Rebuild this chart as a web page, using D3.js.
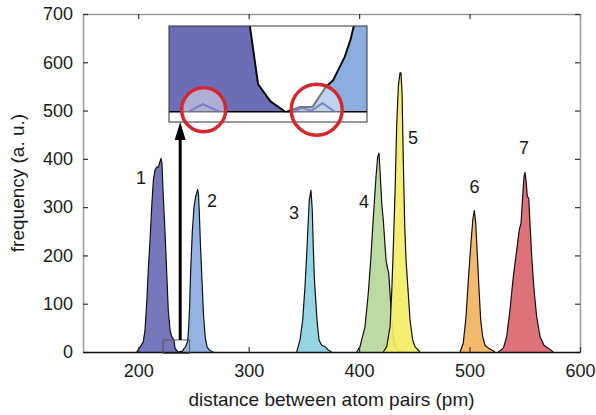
<!DOCTYPE html>
<html>
<head>
<meta charset="utf-8">
<script src="https://cdn.jsdelivr.net/npm/d3@7"></script>
<style>
  html, body { margin: 0; padding: 0; background: #fff; }
  svg { display: block; }
  text { font-family: "Liberation Sans", Arial, Helvetica, sans-serif; fill: #1a1a1a; }
</style>
</head>
<body>
<svg id="chart" width="596" height="415"></svg>
<script>
// ---------------- DATA ----------------
const xTickValues = [200, 300, 400, 500, 600];
const yTickValues = [0, 100, 200, 300, 400, 500, 600, 700];
const xLabel = "distance between atom pairs (pm)";
const yLabel = "frequency (a. u.)";

const peakNames = ["1", "2", "3", "4", "5", "6", "7"];
const peakColors = ["#6b6db6", "#8aaee0", "#8cd0df", "#b6d79a", "#f3ee66", "#f2b361", "#da666f"];

const peak1X = [198.6, 201.6, 204.6, 206.1, 207.7, 209.1, 210.7, 212.2, 213.7, 215.2, 216.7, 218.2, 219.7, 220.6, 221.5, 222.7, 224.2, 225.8, 227.2, 228.8, 230.3, 232.3, 233.3, 234.8, 236.6];
const peak1Y = [0, 10, 21, 45, 102, 170, 232, 300, 356, 377, 383, 383, 394, 401, 391, 322, 251, 164, 87, 46, 32, 25, 8, 3, 0];

const peak2X = [236.8, 238.4, 239.9, 241.5, 242.4, 243.8, 244.5, 244.9, 245.5, 246.5, 247.5, 249.0, 250.5, 252.0, 253.0, 253.8, 254.5, 255.3, 256.3, 257.8, 259.2, 260.8, 262.4, 265.0, 268.0];
const peak2Y = [0, 1.4, 1.4, 7.2, 9.2, 16, 21, 25, 45, 90, 170, 250, 300, 322, 330, 337, 328, 290, 225, 145, 73, 28, 10, 3, 0];

const peak3X = [343.5, 346.5, 348.9, 351.0, 352.6, 354.0, 354.9, 356.4, 357.6, 358.5, 359.4, 360.7, 362.1, 363.7, 366.1, 369.1, 372.1, 375.2];
const peak3Y = [0, 25, 66, 135, 205, 273, 315, 335, 294, 218, 156, 108, 60, 25, 14, 11, 4, 0];

const peak4X = [397.8, 400.8, 405.3, 408.3, 410.5, 412.9, 415.3, 416.8, 418.0, 418.9, 420.5, 421.9, 424.4, 425.5, 426.8, 428.0, 429.5, 431.0, 432.5, 435.5, 438.6];
const peak4Y = [0, 11, 52, 122, 190, 280, 363, 404, 412, 377, 308, 273, 190, 176, 163, 122, 66, 32, 11, 4, 0];

const peak5X = [421.9, 425.0, 428.0, 429.5, 431.0, 432.5, 434.0, 435.5, 437.0, 437.9, 438.9, 440.0, 441.3, 442.5, 444.5, 446.1, 448.5, 450.6, 455.1];
const peak5Y = [0, 11, 52, 122, 218, 329, 467, 550, 578, 578, 537, 398, 260, 190, 122, 66, 25, 11, 0];

const peak6X = [491.4, 494.3, 496.8, 498.9, 501.0, 502.9, 504.3, 505.6, 507.1, 508.6, 510.1, 511.9, 514.0, 517.0, 520.1, 523.0];
const peak6Y = [0, 18, 73, 149, 218, 273, 293, 267, 197, 128, 66, 32, 14, 8, 4, 0];

const peak7X = [526.0, 530.6, 533.6, 536.6, 539.6, 542.7, 545.0, 546.6, 548.1, 549.3, 550.2, 551.1, 552.3, 553.6, 554.7, 556.3, 558.4, 560.8, 563.8, 567.4, 571.3, 575.8];
const peak7Y = [0, 8, 32, 87, 156, 211, 253, 267, 322, 363, 372, 356, 322, 318, 267, 197, 128, 73, 32, 14, 8, 0];

// label anchor positions (data units)
const labelX = [202.5, 266.8, 341.0, 404.4, 448.8, 504.5, 549.3];
const labelY = [360, 313, 288, 311, 443, 342, 422];

// zoomed window shown in the inset (data units)
const insetXDomain = [222.5, 246.5];
const insetYDomain = [-3, 25];
// faint residual bumps visible only in the zoomed inset
const minorX = [224.9, 226.6, 228.6, null, 237.4, 238.6, 239.8, 241.1, 242.6];
const minorY = [0, 2.2, 0, null, 0, 1.1, 0.3, 2.5, 0];
// highlighted spots in the inset (data units)
const circleX = [226.7, 240.4];
const circleY = [0.6, 0.6];

// ---------------- DRAW ----------------
const FONT = '"Liberation Sans", Arial, Helvetica, sans-serif';
const svg = d3.select("#chart");
const W = 596, H = 415;
const m = { left: 83, right: 16, top: 14, bottom: 63 };
const plotR = W - m.right, plotB = H - m.bottom;

const x = d3.scaleLinear().domain([150, 600]).range([m.left, plotR]);
const y = d3.scaleLinear().domain([0, 700]).range([plotB, m.top]);

const peaksX = [peak1X, peak2X, peak3X, peak4X, peak5X, peak6X, peak7X];
const peaksY = [peak1Y, peak2Y, peak3Y, peak4Y, peak5Y, peak6Y, peak7Y];
const peaks = peaksX.map((xs, i) => xs.map((v, j) => ({ x: v, y: peaksY[i][j] })));

// peaks
const gPeaks = svg.append("g");
peaks.forEach((pts, i) => {
  const area = d3.area().x(d => x(d.x)).y0(y(0)).y1(d => y(d.y));
  const line = d3.line().x(d => x(d.x)).y(d => y(d.y));
  gPeaks.append("path").datum(pts).attr("d", area)
    .attr("fill", peakColors[i]).attr("fill-opacity", 0.92);
  gPeaks.append("path").datum(pts).attr("d", line)
    .attr("fill", "none").attr("stroke", "#111").attr("stroke-width", 1.2)
    .attr("stroke-linejoin", "round");
});

// axes box
const tickLen = 5;
const axB = d3.axisBottom(x).tickValues(xTickValues).tickSizeInner(-tickLen).tickSizeOuter(0).tickPadding(12);
const axT = d3.axisTop(x).tickValues(xTickValues).tickSizeInner(-tickLen).tickSizeOuter(0).tickFormat("");
const axL = d3.axisLeft(y).tickValues(yTickValues).tickSizeInner(-tickLen).tickSizeOuter(0).tickPadding(10);
const axR = d3.axisRight(y).tickValues(yTickValues).tickSizeInner(-tickLen).tickSizeOuter(0).tickFormat("");

function styleAxis(g, domainColor) {
  g.select(".domain").attr("stroke", domainColor).attr("stroke-width", 1.5);
  g.selectAll(".tick line").attr("stroke", "#333").attr("stroke-width", 1.2);
  g.selectAll(".tick text").attr("font-size", 18).attr("fill", "#1a1a1a").attr("font-family", FONT);
}
svg.append("g").attr("transform", `translate(0,${m.top})`).call(axT).call(g => styleAxis(g, "#9a9a9a"));
svg.append("g").attr("transform", `translate(${plotR},0)`).call(axR).call(g => styleAxis(g, "#9a9a9a"));
svg.append("g").attr("transform", `translate(${m.left},0)`).call(axL).call(g => styleAxis(g, "#9a9a9a"));
svg.append("g").attr("transform", `translate(0,${plotB})`).call(axB).call(g => styleAxis(g, "#111"));

// axis titles
svg.append("text").attr("x", (m.left + plotR) / 2).attr("y", 406)
  .attr("text-anchor", "middle").attr("font-size", 19).text(xLabel);
svg.append("text").attr("transform", `translate(24,${(m.top + plotB) / 2}) rotate(-90)`)
  .attr("text-anchor", "middle").attr("font-size", 19).text(yLabel);

// peak labels
svg.append("g").selectAll("text").data(peakNames).join("text")
  .attr("x", (d, i) => x(labelX[i])).attr("y", (d, i) => y(labelY[i]))
  .attr("text-anchor", "middle").attr("dominant-baseline", "central")
  .attr("font-size", 18).text(d => d);

// zoom window rectangle in main plot
svg.append("rect")
  .attr("x", x(insetXDomain[0])).attr("y", y(insetYDomain[1]))
  .attr("width", x(insetXDomain[1]) - x(insetXDomain[0]))
  .attr("height", y(insetYDomain[0]) - y(insetYDomain[1]))
  .attr("fill", "none").attr("stroke", "#555").attr("stroke-width", 1);

// inset
const inL = 169, inR = 367, inT = 26, inB = 122;
const ix = d3.scaleLinear().domain(insetXDomain).range([inL, inR]);
const iy = d3.scaleLinear().domain(insetYDomain).range([inB, inT]);

// arrow
const arrowX = x(238);
svg.append("line").attr("x1", arrowX).attr("x2", arrowX)
  .attr("y1", y(insetYDomain[1])).attr("y2", inB + 16)
  .attr("stroke", "#000").attr("stroke-width", 3);
svg.append("path")
  .attr("d", `M${arrowX},${inB} L${arrowX - 5.5},${inB + 18} L${arrowX + 5.5},${inB + 18} Z`)
  .attr("fill", "#000");

const defs = svg.append("defs");
defs.append("clipPath").attr("id", "insetClip").append("rect")
  .attr("x", inL).attr("y", inT).attr("width", inR - inL).attr("height", inB - inT);

const gIn = svg.append("g");
gIn.append("rect").attr("x", inL).attr("y", inT).attr("width", inR - inL).attr("height", inB - inT)
  .attr("fill", "#fff");
const gInC = gIn.append("g").attr("clip-path", "url(#insetClip)");
[0, 1].forEach(i => {
  gInC.append("path").datum(peaks[i])
    .attr("d", d3.area().x(d => ix(d.x)).y0(iy(0)).y1(d => iy(d.y)))
    .attr("fill", peakColors[i]);
});
[0, 1].forEach(i => {
  gInC.append("path").datum(peaks[i])
    .attr("d", d3.line().x(d => ix(d.x)).y(d => iy(d.y)))
    .attr("fill", "none").attr("stroke", "#0a0a0a").attr("stroke-width", 2)
    .attr("stroke-linejoin", "round");
});
gInC.append("line").attr("x1", inL).attr("x2", inR).attr("y1", iy(0)).attr("y2", iy(0))
  .attr("stroke", "#000").attr("stroke-width", 1.6);

// highlight circles (translucent fill)
const circ = circleX.map((v, i) => ({ x: v, y: circleY[i], r: i === 0 ? 22 : 25.5 }));
const gOver = gIn.append("g").attr("clip-path", "url(#insetClip)");
gOver.selectAll("circle").data(circ).join("circle")
  .attr("cx", d => ix(d.x)).attr("cy", d => iy(d.y)).attr("r", d => d.r)
  .attr("fill", "#fff").attr("fill-opacity", 0.45);

// minor bumps (drawn over the translucent circles)
const minorPts = minorX.map((v, i) => ({ x: v, y: minorY[i] }));
gOver.append("path").datum(minorPts)
  .attr("d", d3.line().defined(d => d.x !== null && d.y !== null).x(d => ix(d.x)).y(d => iy(d.y)))
  .attr("fill", "none").attr("stroke", "#6f74c4").attr("stroke-width", 2).attr("stroke-opacity", 0.85);

gIn.append("rect").attr("x", inL).attr("y", inT).attr("width", inR - inL).attr("height", inB - inT)
  .attr("fill", "none").attr("stroke", "#333").attr("stroke-width", 1);

gIn.append("g").selectAll("circle").data(circ).join("circle")
  .attr("cx", d => ix(d.x)).attr("cy", d => iy(d.y)).attr("r", d => d.r)
  .attr("fill", "none").attr("stroke", "#d3282e").attr("stroke-width", 3.5);
</script>
</body>
</html>
